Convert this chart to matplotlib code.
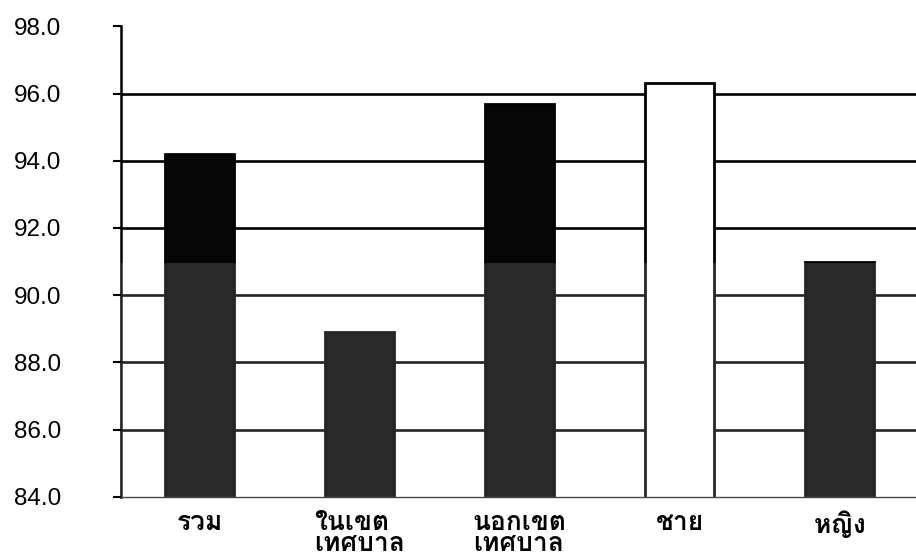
import matplotlib
matplotlib.use("Agg")
import matplotlib.pyplot as plt
from matplotlib import font_manager
from matplotlib.ft2font import FT2Font
from matplotlib.patches import Rectangle

categories = ["รวม", "ในเขต\nเทศบาล", "นอกเขต\nเทศบาล", "ชาย", "หญิง"]
values = [94.2, 88.9, 95.7, 96.3, 91.0]
face_colors = ["#050505", "#050505", "#050505", "#ffffff", "#050505"]
y_ticks = [84, 86, 88, 90, 92, 94, 96, 98]


def find_thai_font():
    # pick an installed font that actually has Thai glyphs
    best = None
    for f in font_manager.fontManager.ttflist:
        try:
            ft = FT2Font(f.fname)
            if ft.get_char_index(ord("ร")) and ft.get_char_index(ord("ญ")):
                score = 2 if f.weight in ("bold", 700) else 1
                if best is None or score > best[0]:
                    best = (score, f.name)
        except Exception:
            pass
    return best[1] if best else "DejaVu Sans"


thai_font = find_thai_font()
plt.rcParams["font.family"] = ["Liberation Sans", "DejaVu Sans"]

fig = plt.figure(figsize=(9.16, 5.59), dpi=100)
ax = fig.add_axes([0.132, 0.111, 0.874, 0.842])

x = list(range(len(categories)))
ax.bar(x, values, width=0.43, bottom=0, color=face_colors,
       edgecolor="black", linewidth=2, zorder=2)

ax.set_ylim(84, 98)
ax.set_xlim(-0.49, 4.51)
ax.set_yticks(y_ticks)
ax.set_yticklabels([f"{v:.1f}" for v in y_ticks], fontsize=17.5)
ax.tick_params(axis="y", direction="out", length=6, width=1.5, pad=37)
ax.tick_params(axis="x", length=0, pad=10)

for v in y_ticks[1:-1]:
    ax.axhline(v, color="black", linewidth=1.9, zorder=1)

ax.spines["top"].set_visible(False)
ax.spines["right"].set_visible(False)
ax.spines["left"].set_linewidth(1.8)
ax.spines["bottom"].set_linewidth(1.0)
ax.spines["bottom"].set_color("#444444")

ax.set_xticks(x)
ax.set_xticklabels(categories, fontsize=19, fontweight="bold",
                   family=[thai_font, "DejaVu Sans"], linespacing=0.85,
                   multialignment="left", va="top")

# faint lightening band over the lower part of the plot
ax.add_patch(Rectangle((0, 0), 1, (90.95 - 84) / 14, transform=ax.transAxes,
                       facecolor="white", alpha=0.15, edgecolor="none",
                       zorder=3))

plt.savefig("out.png", dpi=100)
